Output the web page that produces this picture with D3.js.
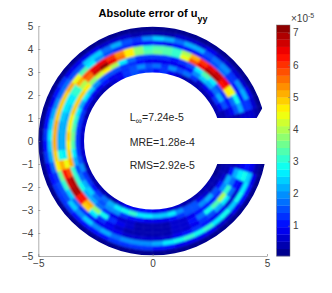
<!DOCTYPE html>
<html>
<head>
<meta charset="utf-8">
<script src="https://cdn.jsdelivr.net/npm/d3@7"></script>
<style>
    html, body { margin: 0; background: #fff; }
    text { font-family: "Liberation Sans", Arial, sans-serif; fill: #262626; }
    .axis path, .axis line { stroke: #777; stroke-width: 0.6; }
    .axis text { font-size: 10px; fill: #404040; }
    .note { font-size: 10.5px; }
</style>
</head>
<body>
<svg id="chart" width="332" height="293"></svg>
<script>
(function (d3) {
    'use strict';

    var xTicks = [-5, 0, 5],
        yTicks = [-5, -4, -3, -2, -1, 0, 1, 2, 3, 4, 5],
        barTicks = [1, 2, 3, 4, 5, 6, 7],
        barRange = [0.06, 7.24],
        notes = ['MRE=1.28e-4', 'RMS=2.92e-5'];

    // ring centres of the polar grid
    var radii = [3.1, 3.3, 3.5, 3.7, 3.9, 4.1, 4.3, 4.5, 4.7, 4.9];
    var angles = d3.range(15, 346, 6); // degrees, one row below per angle

    // corners of the gap in the C, data units
    var opening = [[0, 1], [4.55, 1], [4.8, 1.44], [6, 1.44], [6, -1], [0, -1]];

    // absolute error in units of 1e-5
    var errors = [
        [.2, .2, .3, .4, .5, .7, .7, .6, .3, .2],
        [.3, .4, .6, .9, 1.6, 2.2, 1.2, 1.4, .6, .2],
        [.3, .8, 1.6, 1, 1.8, 2.8, 1.1, 2.3, .8, .2],
        [.4, 1.2, 2.2, 1.2, 4.6, 4.4, 1, 2, .7, .2],
        [.3, .9, 1.8, 1.5, 6.2, 6.4, 1.3, 1.3, .6, .2],
        [.3, .9, 2.3, 2.6, 7, 6.6, 1.8, 1.9, .6, .2],
        [.3, .7, 2.4, 3.4, 6.8, 6.4, 1.6, 1.7, .7, .2],
        [.3, 1.3, 2, 2.6, 6.4, 6, 1.2, 1.5, .8, .2],
        [.4, 1.8, 1, 1.6, 5.8, 5.2, 1, 2.2, .6, .2],
        [.6, 1.6, .8, 1.2, 4.4, 4, 1, 2.2, .6, .2],
        [.9, 1.9, .8, 1, 3.2, 3.2, 1, 1.8, .6, .2],
        [1.2, 1.4, .8, 1.2, 3.4, 3.4, .9, 2.2, .5, .2],
        [1, 1.8, .9, 1.4, 3.6, 3.4, 1, 2.4, .5, .2],
        [1.2, 1.6, .9, 1.2, 3.4, 3.2, 1, 2, .5, .2],
        [1.2, 2, 1, 1.4, 3.8, 3.8, 1.1, 1.4, .5, .2],
        [1.6, 1.6, 1.2, 1.8, 4.6, 4.6, 1.2, 1.6, .6, .2],
        [1.2, 1.2, 1.4, 2.6, 5.6, 5.4, 1.4, 2.2, .6, .2],
        [.8, .9, 1.6, 4, 6.4, 6, 1.6, 1.8, .7, .2],
        [.6, .8, 1.6, 4.6, 7.1, 6.4, 2, 2.4, .8, .2],
        [.5, 1.1, 1.6, 4.2, 6.6, 6.4, 2.6, 2.4, .9, .2],
        [.5, .8, 2, 3.8, 5.6, 5.8, 3.4, 1.6, .9, .2],
        [.5, .9, 2.4, 4.6, 4, 5, 4.4, 1.6, .8, .2],
        [.4, 1.1, 2.6, 4.8, 3, 3.2, 5, 1.8, 1.2, .2],
        [.5, 1, 2.2, 4.8, 2.6, 2.6, 4.8, 1.8, 1, .2],
        [.5, 1.2, 2.6, 4.8, 2.4, 2.6, 4.8, 2, .9, .2],
        [.6, 1.2, 3, 4.6, 2.3, 2.4, 4.8, 2.2, 1, .2],
        [.7, 1.2, 3.4, 4.6, 2.1, 2.2, 5, 2.4, 1, .2],
        [.7, 1.2, 3.6, 4.8, 2.1, 2.2, 5, 2.6, 1.2, .2],
        [.7, 1.4, 3.4, 4.6, 2.2, 2.2, 5, 2.4, 1.1, .2],
        [.7, 1.4, 2.6, 4.8, 2.6, 2.8, 4.8, 2.2, 1.2, .2],
        [.6, 1.6, 2.2, 5, 4.4, 5, 4.6, 1.8, .9, .2],
        [.5, 2, 1.6, 3.2, 5.8, 6.2, 3.6, 1.4, 1, .2],
        [.5, 1.4, 1.8, 3.2, 6.8, 6.6, 3, 1.6, 1.2, .2],
        [.5, 1.2, 2.2, 2.8, 7, 6.8, 2.4, 1.6, 1.3, .2],
        [.4, 1, 2.4, 2.2, 6.2, 6.2, 1.8, 2.4, 1.2, .2],
        [.4, 1.4, 1.8, 2.2, 5, 4.8, 1.4, 2, 1, .2],
        [.4, 1.8, 1.6, 1.8, 3.8, 2.6, 1, 2.4, 1, .2],
        [.5, 2.2, 2, 1.2, 2.8, 1.4, .9, 2, 1, .2],
        [.6, 2.6, 2, .9, 1.4, .8, .8, 2.2, 1.1, .2],
        [.8, 2.8, 1.4, .7, .8, .6, .8, 1.8, 1.3, .2],
        [.9, 3, 1.1, .6, .6, .5, .7, 1.9, 1.3, .2],
        [1, 2.6, 1, .5, .4, .4, .6, 2, 1.2, .2],
        [1, 2.6, .9, .5, .3, .3, .6, 2, 1.2, .2],
        [.8, 2.5, .9, .5, .3, .3, .6, 2.3, 1.1, .2],
        [.8, 2.4, .9, .5, .4, .4, .7, 2.6, 1, .2],
        [.7, 2.6, 1, .6, .6, .6, .8, 2.8, .9, .2],
        [.6, 2, 1.2, .7, .7, .7, 1, 3, .8, .2],
        [.5, 1.6, 1.6, .8, 1, .8, 1.2, 2.8, .8, .2],
        [.4, 1.6, 1.6, 1, 1.8, 1.2, 1, 3, .8, .2],
        [.3, .9, 2, 1, 2.8, 1.6, .9, 2.6, .7, .2],
        [.3, .7, 2.2, 1.1, 3.4, 2.2, .8, 2.8, .7, .2],
        [.3, .5, 1.6, 1.2, 4, 2.6, .7, 2.4, .9, .2],
        [.3, .4, 1, 2, 3, 1.8, .7, 2.8, 1, .2],
        [.2, .3, .7, 2.2, 1.8, 1, .9, 2.6, 1, .2],
        [.2, .3, .5, 1, 2.2, 2.6, 2.8, 2.4, .8, .2],
        [.2, .2, .3, .4, .6, .8, 1, .8, .4, .2]
    ];

    var svg = d3.select('#chart');

    var x = d3.scaleLinear().domain([-5, 5]).range([38.3, 267]),
        y = d3.scaleLinear().domain([-5, 5]).range([256, 26]),
        barY = d3.scaleLinear().domain(barRange).range([256, 25]),
        unit = x(1) - x(0);

    // jet colormap, 32 levels as in the colorbar
    var levels = d3.range(32).map(function (i) {
        var t = (i + 0.5) / 32;
        return d3.rgb(jetChannel(t - 0.25) * 255, jetChannel(t) * 255, jetChannel(t + 0.25) * 255).formatHex();
    });
    var color = d3.scaleQuantize().domain(barRange).range(levels);

    function jetChannel(t) {
        return Math.max(0, Math.min(1, 1.5 - Math.abs(4 * t - 2)));
    }

    function toRadians(deg) {
        return (90 - deg) * Math.PI / 180;
    }

    var defs = svg.append('defs');

    // the blurred group is translated to the centre, so the region starts negative
    defs.append('filter')
        .attr('id', 'smooth')
        .attr('filterUnits', 'userSpaceOnUse')
        .attr('x', -200).attr('y', -200).attr('width', 400).attr('height', 400)
        .append('feGaussianBlur')
        .attr('stdDeviation', 1);

    defs.append('clipPath').attr('id', 'ring')
        .append('path')
        .attr('transform', 'translate(' + x(0) + ',' + y(0) + ')')
        .attr('d', d3.arc()({
            innerRadius: 3 * unit,
            outerRadius: 5 * unit,
            startAngle: 0,
            endAngle: 2 * Math.PI
        }));

    var openingLine = d3.line()
        .x(function (d) { return x(d[0]); })
        .y(function (d) { return y(d[1]); });

    defs.append('clipPath').attr('id', 'opening')
        .append('path')
        .attr('clip-rule', 'evenodd')
        .attr('d', 'M0,0H332V293H0Z' + openingLine(opening) + 'Z');

    var field = svg.append('g').attr('clip-path', 'url(#ring)')
        .append('g').attr('clip-path', 'url(#opening)')
        .append('g').attr('filter', 'url(#smooth)')
        .attr('transform', 'translate(' + x(0) + ',' + y(0) + ')');

    var cells = [];
    errors.forEach(function (row, i) {
        row.forEach(function (value, j) {
            cells.push({ angle: angles[i], radius: radii[j], value: value });
        });
    });

    var arc = d3.arc()
        .innerRadius(function (d) {
            return (d.radius === radii[0] ? 2.5 : d.radius - 0.1) * unit;
        })
        .outerRadius(function (d) {
            return (d.radius === radii[radii.length - 1] ? 5.5 : d.radius + 0.1) * unit;
        })
        .startAngle(function (d) {
            return toRadians(d.angle === angles[0] ? d.angle - 12 : d.angle - 3);
        })
        .endAngle(function (d) {
            return toRadians(d.angle === angles[angles.length - 1] ? d.angle + 12 : d.angle + 3);
        });

    field.selectAll('path').data(cells).enter().append('path')
        .attr('d', arc)
        .attr('fill', function (d) { return color(d.value); })
        .attr('stroke', function (d) { return color(d.value); })
        .attr('stroke-width', 0.5);

    // axes
    svg.append('g').attr('class', 'axis')
        .attr('transform', 'translate(' + x(-5) + ',0)')
        .call(d3.axisLeft(y).tickValues(yTicks).tickSize(-2).tickSizeOuter(0).tickPadding(5));

    svg.append('g').attr('class', 'axis x-axis')
        .attr('transform', 'translate(0,' + y(-5) + ')')
        .call(d3.axisBottom(x).tickValues(xTicks).tickSize(-2).tickSizeOuter(0).tickPadding(4));

    svg.select('.x-axis path').attr('stroke', 'none');

    // colorbar
    var barLevels = levels.map(function (c, i) {
        return {
            color: c,
            low: barRange[0] + (barRange[1] - barRange[0]) * i / levels.length,
            high: barRange[0] + (barRange[1] - barRange[0]) * (i + 1) / levels.length
        };
    });

    svg.append('g').selectAll('rect').data(barLevels).enter().append('rect')
        .attr('x', 276.5)
        .attr('width', 13.5)
        .attr('y', function (d) { return barY(d.high); })
        .attr('height', function (d) { return barY(d.low) - barY(d.high) + 0.3; })
        .attr('fill', function (d) { return d.color; });

    svg.append('rect')
        .attr('x', 276.5).attr('y', 25).attr('width', 13.5).attr('height', 231)
        .attr('fill', 'none').attr('stroke', '#777').attr('stroke-width', 0.5);

    var barAxis = svg.append('g').attr('class', 'axis')
        .attr('transform', 'translate(290,0)')
        .call(d3.axisRight(barY).tickValues(barTicks).tickSize(-2).tickSizeOuter(0).tickPadding(3));
    barAxis.select('.domain').remove();

    var exponent = svg.append('text')
        .attr('x', 291).attr('y', 22)
        .style('font-size', '10px')
        .style('fill', '#404040');
    exponent.append('tspan').text('\u00d710');
    exponent.append('tspan').attr('dy', -4).style('font-size', '7px').text('-5');

    // title
    var title = svg.append('text')
        .attr('x', 153).attr('y', 17)
        .attr('text-anchor', 'middle')
        .style('font-size', '11px')
        .style('font-weight', 'bold')
        .style('fill', '#000');
    title.append('tspan').text('Absolute error of u');
    title.append('tspan').attr('dy', 5).style('font-size', '9px').text('yy');

    // annotations inside the hole
    var linf = svg.append('text').attr('class', 'note')
        .attr('x', x(-1)).attr('y', 121);
    linf.append('tspan').text('L');
    linf.append('tspan').attr('dy', 3).style('font-size', '9px').text('\u221e');
    linf.append('tspan').attr('dy', -3).text('=7.24e-5');

    svg.selectAll('text.extra').data(notes).enter().append('text')
        .attr('class', 'note extra')
        .attr('x', x(-1))
        .attr('y', function (d, i) { return 146 + i * 22.5; })
        .text(String);
}(window.d3));
</script>
</body>
</html>
